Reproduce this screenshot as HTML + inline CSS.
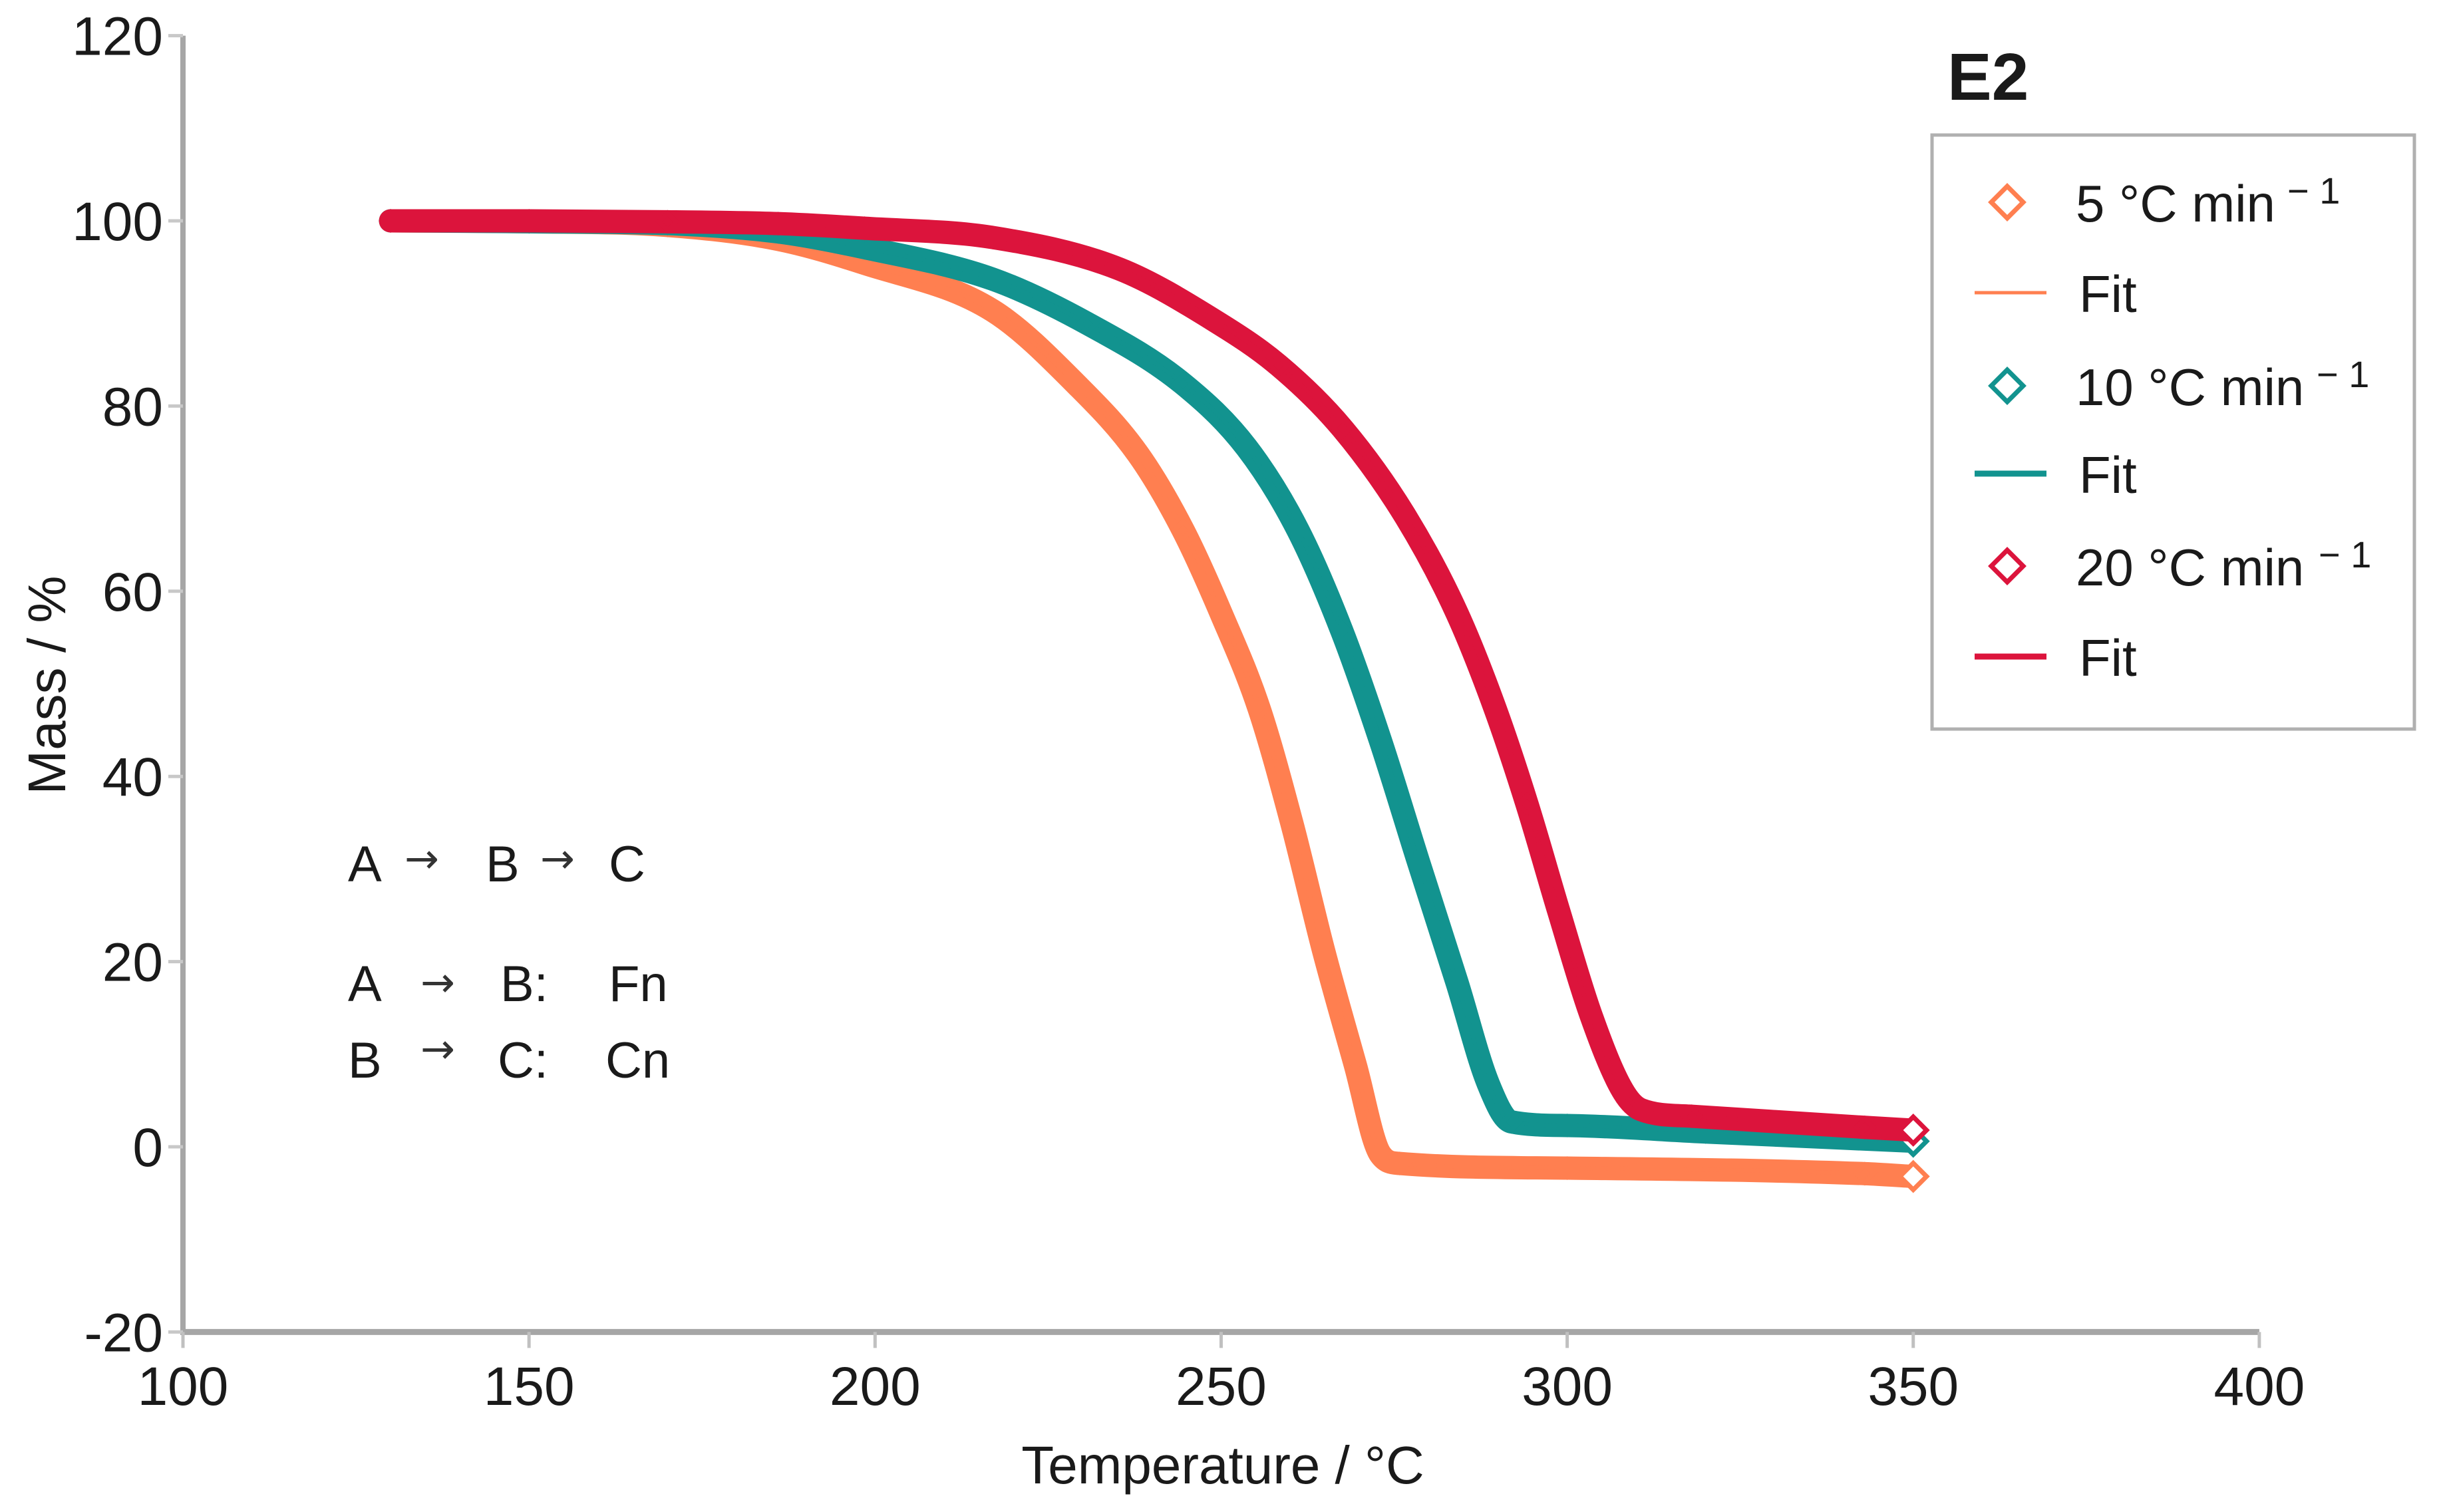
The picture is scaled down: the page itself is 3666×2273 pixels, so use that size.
<!DOCTYPE html>
<html><head><meta charset="utf-8"><style>
html,body{margin:0;padding:0;background:#fff;}
svg{display:block;}
text{font-family:"Liberation Sans","DejaVu Sans",sans-serif;fill:#1a1a1a;}
text.arr{font-family:"DejaVu Sans",sans-serif;fill:#333;}
</style></head><body>
<svg id="chart" width="3666" height="2273" viewBox="0 0 3666 2273" xmlns="http://www.w3.org/2000/svg">
<g id="axes"></g>
<g id="series"></g>
<g font-size="76">
 <text x="523" y="1325">A</text>
 <text class="arr" x="608" y="1312" font-size="62">→</text>
 <text x="730" y="1325">B</text>
 <text class="arr" x="812" y="1312" font-size="62">→</text>
 <text x="915" y="1325">C</text>
 <text x="523" y="1505">A</text>
 <text class="arr" x="632" y="1498" font-size="62">→</text>
 <text x="752" y="1505">B:</text>
 <text x="915" y="1505">Fn</text>
 <text x="523" y="1620">B</text>
 <text class="arr" x="632" y="1598" font-size="62">→</text>
 <text x="748" y="1620">C:</text>
 <text x="910" y="1620">Cn</text>
</g>
<text x="2927" y="150" font-size="100" font-weight="bold">E2</text>
<g id="legend">
 <rect x="2904" y="203" width="725" height="893" fill="#fff" stroke="#b0b0b0" stroke-width="5"/>
</g>
</svg>
<script>
// ---- data ----
const temp5  = [130,150,170,186,198.5,217,229,238,244.5,250,255.5,260.2,264.8,269.4,273,275.8,300,343,350];
const mass5  = [100,99.9,99.5,98,95.4,90.3,82.4,74.8,66.6,57.6,47.3,35,21.2,8.8,-0.8,-1.8,-2.3,-2.9,-3.2];
const temp10 = [130,150,170,186,198.5,217,230.7,244.5,253.7,261.1,267.5,273,278.5,284.1,288.6,291.9,300,320,350];
const mass10 = [100,99.9,99.7,98.8,97.1,93.7,88.9,82.4,75.5,66.6,55.6,43.9,30.8,17.7,6.8,2.7,2.3,1.6,0.6];
const temp20 = [130,150,170,186,198.5,217,235.3,249.1,258.3,267.5,276.7,284.1,289.6,294.2,298.8,303.4,308,310.7,318,343,350];
const mass20 = [100,100,99.9,99.7,99.2,98.2,94.8,89.2,84.4,77.6,68,57.6,47.3,37,25.4,14.3,6.1,4.0,3.3,2.1,1.8];
const xTicks = [100,150,200,250,300,350,400];
const yTicks = [-20,0,20,40,60,80,100,120];
const legendLabels = ["5 °C min","Fit","10 °C min","Fit","20 °C min","Fit"];
const colors = ["#ff7f50","#12938f","#dc143c"];

// ---- axes ----
const NS="http://www.w3.org/2000/svg";
const X0=275, XPX=10.403, Y0=1724, YPX=13.92;
function xs(v){return X0+(v-100)*XPX;}
function ys(v){return Y0-v*YPX;}
function mk(tag,attrs,parent){const e=document.createElementNS(NS,tag);for(const k in attrs)e.setAttribute(k,attrs[k]);parent.appendChild(e);return e;}
const axes=document.getElementById('axes');
const series=document.getElementById('series');
const legend=document.getElementById('legend');

let yAxis=mk('line',{x1:xs(100),y1:ys(120),x2:xs(100),y2:ys(-20)+4,stroke:'#a6a6a6','stroke-width':8},axes);


let xAxis=mk('line',{x1:xs(100)-4,y1:ys(-20),x2:xs(400),y2:ys(-20),stroke:'#a6a6a6','stroke-width':9},axes);



yTicks.forEach(v=>{
  const t=mk('line',{x1:xs(100)-22,y1:ys(v),x2:xs(100),y2:ys(v),stroke:'#c8c8c8','stroke-width':5},axes);
  
  
  const l=mk('text',{x:245,y:ys(v)+29,'text-anchor':'end','font-size':82},axes);
  l.textContent=v;
  
  
});
xTicks.forEach(v=>{
  const t=mk('line',{x1:xs(v),y1:ys(-20),x2:xs(v),y2:ys(-20)+24,stroke:'#c0c0c0','stroke-width':5},axes);
  
  
  const l=mk('text',{x:xs(v),y:2112,'text-anchor':'middle','font-size':82},axes);
  l.textContent=v;
  
  
});
const xt=mk('text',{x:1838,y:2230,'text-anchor':'middle','font-size':80},axes);
xt.textContent='Temperature / °C';


const yt=mk('text',{x:0,y:0,'text-anchor':'middle','font-size':80,transform:'translate(98,1030) rotate(-90)'},axes);
yt.textContent='Mass / %';



// monotone cubic path through screen points
function smoothPath(px,py){
  const n=px.length, d=[], m=[];
  for(let i=0;i<n-1;i++) d.push((py[i+1]-py[i])/(px[i+1]-px[i]));
  m[0]=d[0]; m[n-1]=d[n-2];
  for(let i=1;i<n-1;i++){ m[i]=(d[i-1]*d[i]<=0)?0:(d[i-1]+d[i])/2; }
  for(let i=0;i<n-1;i++){
    if(d[i]===0){m[i]=0;m[i+1]=0;continue;}
    const a=m[i]/d[i], b=m[i+1]/d[i], s=a*a+b*b;
    if(s>9){const t=3/Math.sqrt(s); m[i]=t*a*d[i]; m[i+1]=t*b*d[i];}
  }
  let p=`M${px[0]},${py[0]}`;
  for(let i=0;i<n-1;i++){
    const h=(px[i+1]-px[i])/3;
    p+=` C${px[i]+h},${py[i]+m[i]*h} ${px[i+1]-h},${py[i+1]-m[i+1]*h} ${px[i+1]},${py[i+1]}`;
  }
  return p;
}

// ---- series ----
function diamond(cx,cy,r){return `M${cx},${cy-r} L${cx+r},${cy} L${cx},${cy+r} L${cx-r},${cy} Z`;}
[[temp5,mass5,'5'],[temp10,mass10,'10'],[temp20,mass20,'20']].forEach((s,i)=>{
  const [T,M,name]=s;
  const px=T.map(xs), py=M.map(ys);
  const pd=smoothPath(px,py);
  const band=mk('path',{d:pd,fill:'none',stroke:colors[i],'stroke-width':35,'stroke-linejoin':'round','stroke-linecap':'round'},series);
  
  
  const fit=mk('path',{d:pd,fill:'none',stroke:colors[i],'stroke-width':6},series);
  
  
  T.forEach((t,j)=>{
    const last=j===T.length-1;
    const d=mk('path',{d:diamond(xs(t),ys(M[j]),last?20:13),fill:last?'#fff':colors[i],stroke:colors[i],'stroke-width':7},series);
    
    
  });
});

// ---- legend ----
const rowY=[304,440,580,712,851,987];
rowY.forEach((y,k)=>{
  const c=colors[Math.floor(k/2)];
  if(k%2===0){
    const d=mk('path',{d:diamond(3017,y,24),fill:'#fff',stroke:c,'stroke-width':7},legend);
    
    
    const t=mk('text',{x:3120,y:y+29,'font-size':78},legend);
    t.textContent=legendLabels[k];
    
    
    const sup=mk('text',{x:3120+(k===0?318:k===2?362:365),y:y+2,'font-size':56},legend);
    sup.textContent='− 1';
    
    
  } else {
    const l=mk('line',{x1:2968,y1:y,x2:3076,y2:y,stroke:c,'stroke-width':k===1?5:9},legend);
    
    
    const t=mk('text',{x:3125,y:y+29,'font-size':78},legend);
    t.textContent=legendLabels[k];
    
    
  }
});
</script>
</body></html>
